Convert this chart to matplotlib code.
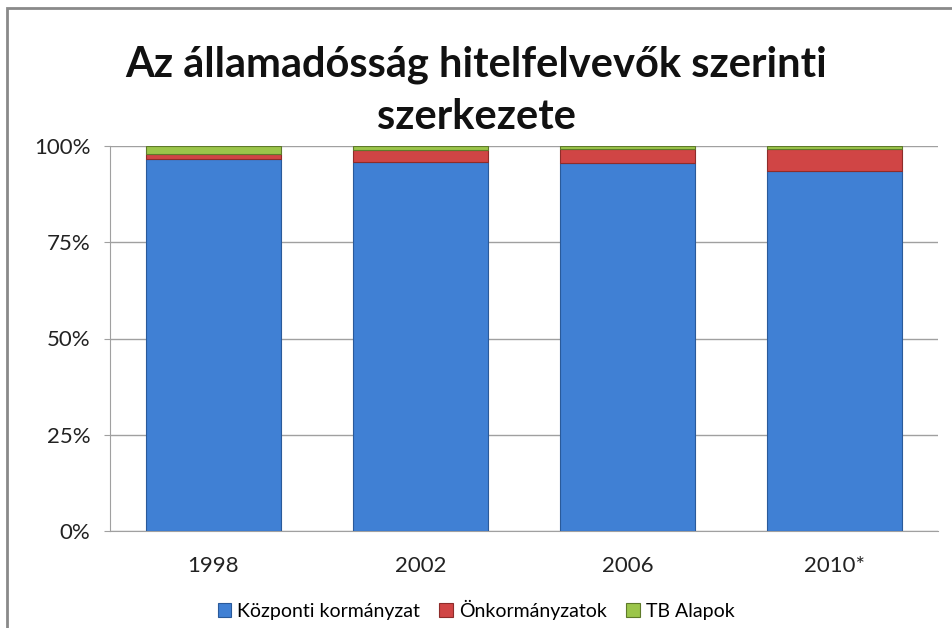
import matplotlib
matplotlib.use("Agg")
import matplotlib.pyplot as plt
import numpy as np
from matplotlib.patches import Rectangle

years = ["1998", "2002", "2006", "2010*"]
kozponti = [96.5, 95.8, 95.5, 93.5]
onkorm = [1.5, 3.2, 3.7, 5.7]
tb_alapok = [2.0, 1.0, 0.8, 0.8]
series_names = ["Központi kormányzat", "Önkormányzatok", "TB Alapok"]
colors = ["#4080D4", "#D04545", "#9BC54A"]
edge_colors = ["#2A5A9A", "#8E2C2A", "#5E7A2A"]

plt.rcParams['font.family'] = ['Lato', 'DejaVu Sans']

fig = plt.figure(figsize=(9.52, 6.28), dpi=100)
ax = fig.add_axes([110/952, 97/628, 828/952, 385/628])

x = np.arange(len(years))
bottom = np.zeros(len(years))
handles = []
for vals, c, ec, name in zip([kozponti, onkorm, tb_alapok], colors, edge_colors, series_names):
    b = ax.bar(x, vals, width=0.65, bottom=bottom, color=c, edgecolor=ec,
               linewidth=0.8, label=name, zorder=3)
    handles.append(b)
    bottom += np.array(vals)

ax.set_xlim(-0.5, len(years) - 0.5)
ax.set_ylim(0, 100)
ax.set_yticks([0, 25, 50, 75, 100])
ax.set_yticklabels(["0%", "25%", "50%", "75%", "100%"], fontsize=16, color="#222222")
ax.set_xticks(x)
ax.set_xticklabels(years, fontsize=16, color="#222222")
ax.tick_params(axis='x', length=0, pad=18)
ax.tick_params(axis='y', length=4, color="#A0A0A0", pad=10)
ax.yaxis.grid(True, color="#A0A0A0", linewidth=1, zorder=0)
for s in ["top", "right"]:
    ax.spines[s].set_visible(False)
for s in ["left", "bottom"]:
    ax.spines[s].set_color("#A0A0A0")

fig.text(0.5, 1 - 65/628, "Az államadósság hitelfelvevők szerinti", ha="center", va="center",
         fontsize=30, fontweight="bold", color="#111111")
fig.text(0.5, 1 - 117/628, "szerkezete", ha="center", va="center",
         fontsize=30, fontweight="bold", color="#111111")

fig.legend(handles=handles, labels=series_names, loc="center", bbox_to_anchor=(0.5, 1 - 610/628),
           ncol=3, frameon=False, fontsize=14, handlelength=0.7, handleheight=0.7,
           columnspacing=1.0, handletextpad=0.3)

frame = Rectangle((7/952, -0.1), 1.2, 1 - 8/628 + 0.1, transform=fig.transFigure,
                  fill=False, edgecolor="#8A8A8A", linewidth=2, zorder=10)
fig.patches.append(frame)

fig.savefig("out.png", dpi=100)
